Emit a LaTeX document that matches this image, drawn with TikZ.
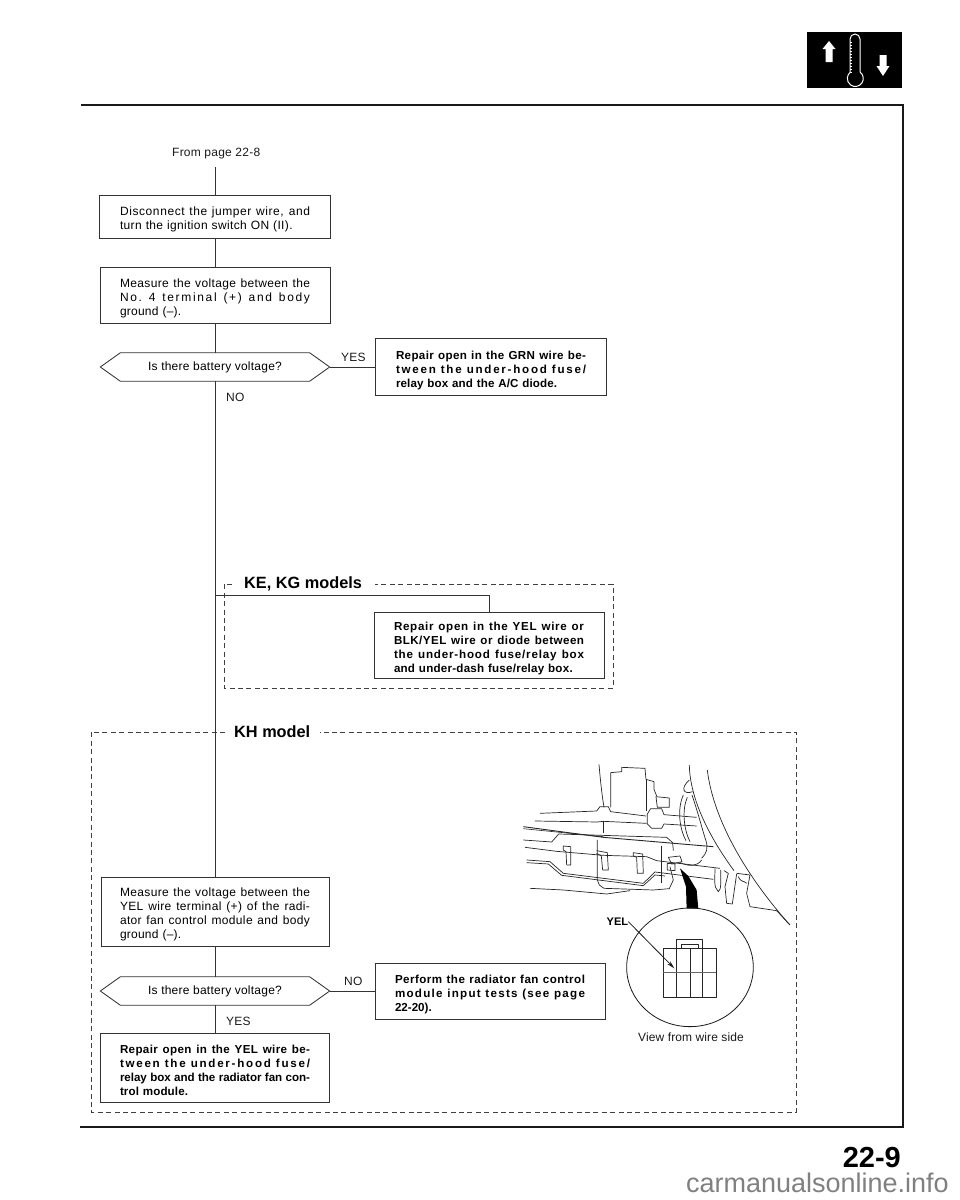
\documentclass[tikz,border=0pt]{standalone}
\usepackage{fontspec}
\setmainfont{Liberation Sans}
\usetikzlibrary{arrows.meta}
\newcommand{\jl}[2]{{\spaceskip=.27em plus 1fil\xspaceskip=.27em plus 1fil\addfontfeature{LetterSpace=#1}\makebox[190pt][s]{#2}}}
\newcommand{\nl}[2]{{\addfontfeature{LetterSpace=#1}#2}}
\tikzset{
  ln/.style={draw=black!80,line width=0.85pt},
  stepbox/.style={draw=black!80,line width=0.85pt,inner xsep=0pt,inner ysep=0pt,text width=190pt,align=left,font=\fontsize{12}{14}\selectfont,execute at begin node={\rule{0pt}{15pt}}},
  boldbox/.style={stepbox,font=\fontsize{11.6}{14}\selectfont\bfseries},
  dec/.style={inner sep=0pt,font=\fontsize{12}{14}\selectfont,minimum width=229pt,minimum height=28pt},
  lbl/.style={inner sep=0pt,font=\fontsize{12}{14}\selectfont,text=black!90},
  dsh/.style={draw=black!75,line width=0.6pt,dash pattern=on 5pt off 3.4pt},
  ttl/.style={inner sep=0pt,font=\fontsize{16.3}{18}\selectfont\bfseries},
  art/.style={draw=black!85,line width=0.7pt,line join=round}
}
\begin{document}
\begin{tikzpicture}[x=1pt,y=-1pt]
\useasboundingbox (0,0) rectangle (960,1200);
% page frame
\coordinate (ftl) at (81,105); \coordinate (ftr) at (903,105);
\coordinate (fbr) at (903,1127); \coordinate (fbl) at (80,1127);
\draw[line width=1.4pt,black!90] (ftl) -- (ftr) -- (fbr) -- (fbl);
% icon
\fill[black] (807,32) rectangle (902,88);
\fill[white] (829,41) -- (835.5,49) -- (832.5,49) -- (832.5,62) -- (825.5,62) -- (825.5,49) -- (822.5,49) -- cycle;
\fill[white] (883,76) -- (889.5,66) -- (886.5,66) -- (886.5,55) -- (879.5,55) -- (879.5,66) -- (876.5,66) -- cycle;
\draw[white,line width=1pt] (850,72) -- (850,39) arc[start angle=180,end angle=0,radius=5pt] -- (860,72) arc[start angle=54,end angle=-234,radius=8pt];
\foreach \yy in {42,45,...,72} \draw[white,line width=0.6pt] (850,\yy) -- (852,\yy);
% dashed frames
\coordinate (a1) at (232,584); \coordinate (a2) at (224,584); \coordinate (a3) at (224,688);
\coordinate (a4) at (613,688); \coordinate (a5) at (613,584); \coordinate (a6) at (375,584);
\draw[dsh] (a1) -- (a2) -- (a3) -- (a4) -- (a5) -- (a6);
\coordinate (c1) at (225,732); \coordinate (c2) at (91,732); \coordinate (c3) at (91,1112);
\coordinate (c4) at (796,1112); \coordinate (c5) at (796,732); \coordinate (c6) at (320,732);
\draw[dsh] (c1) -- (c2) -- (c3) -- (c4) -- (c5) -- (c6);
% text nodes
\node[lbl,anchor=west] (from) at (172,154) {\nl{2}{From page 22-8}};
\coordinate (start) at (215,167);
\node[stepbox,minimum width=231pt,minimum height=43pt] (s1) at (215,216.5)
  {\jl{5}{Disconnect the jumper wire, and}\\\nl{3}{turn the ignition switch ON (II).}};
\node[stepbox,minimum width=230pt,minimum height=56pt] (s2) at (215,295)
  {\jl{3}{Measure the voltage between the}\\\jl{14}{No. 4 terminal (+) and body}\\\nl{2}{ground (--).}};
\node[dec] (d1) at (215,367) {\nl{2}{Is there battery voltage?}};
\node[boldbox,minimum width=231pt,minimum height=57pt] (r1) at (491,367)
  {\jl{3}{Repair open in the GRN wire be-}\\\jl{15}{tween the under-hood fuse/}\\\nl{1}{relay box and the A/C diode.}};
\node[lbl,anchor=west] (y1) at (341,357.5) {\nl{2}{YES}};
\node[lbl,anchor=west] (n1) at (226,397) {\nl{2}{NO}};
\coordinate (ke) at (215,595);
\coordinate (kec) at (489,595);
\node[ttl,anchor=west] (ket) at (244,584) {KE, KG models};
\node[boldbox,minimum width=230pt,minimum height=66pt] (r2) at (489,645)
  {\jl{6}{Repair open in the YEL wire or}\\\jl{4}{BLK/YEL wire or diode between}\\\jl{7}{the under-hood fuse/relay box}\\\nl{2}{and under-dash fuse/relay box.}};
\node[ttl,anchor=west] (kht) at (234,732) {KH model};
\node[stepbox,minimum width=228pt,minimum height=69pt] (s3) at (215,911.5)
  {\jl{3}{Measure the voltage between the}\\\jl{3}{YEL wire terminal (+) of the radi-}\\\jl{3}{ator fan control module and body}\\\nl{2}{ground (--).}};
\node[dec] (d2) at (215,991) {\nl{2}{Is there battery voltage?}};
\node[boldbox,minimum width=230pt,minimum height=56pt] (r3) at (490,991)
  {\jl{4}{Perform the radiator fan control}\\\jl{11}{module input tests (see page}\\22-20).};
\node[lbl,anchor=west] (n2) at (344,981.5) {\nl{2}{NO}};
\node[lbl,anchor=west] (y2) at (226,1021.5) {\nl{2}{YES}};
\node[boldbox,minimum width=229pt,minimum height=69pt] (r4) at (215,1067.5)
  {\jl{3}{Repair open in the YEL wire be-}\\\jl{15}{tween the under-hood fuse/}\\\jl{-0.5}{relay box and the radiator fan con-}\\\nl{1}{trol module.}};
\node[lbl,anchor=west] (view) at (638,1037) {\nl{1}{View from wire side}};
\node[inner sep=0pt,font=\fontsize{29}{30}\selectfont\bfseries,anchor=base east] (pg) at (901,1167) {22-9};
\node[inner sep=0pt,font=\fontsize{27}{30}\selectfont,text=black!50,anchor=base east] (wm) at (949,1192.5) {carmanualsonline.info};
% decision outlines
\draw[ln] (d1.west) -- ([xshift=20pt]d1.north west) -- ([xshift=-20pt]d1.north east) -- (d1.east) -- ([xshift=-20pt]d1.south east) -- ([xshift=20pt]d1.south west) -- cycle;
\draw[ln] (d2.west) -- ([xshift=20pt]d2.north west) -- ([xshift=-20pt]d2.north east) -- (d2.east) -- ([xshift=-20pt]d2.south east) -- ([xshift=20pt]d2.south west) -- cycle;
% connectors
\draw[ln] (start) -- (s1.north);
\draw[ln] (s1.south) -- (s2.north);
\draw[ln] (s2.south) -- (d1.north);
\draw[ln] (d1.east) -- (r1.west);
\draw[ln] (d1.south) -- (s3.north);
\draw[ln] (ke) -- (kec) -- (r2.north);
\draw[ln] (s3.south) -- (d2.north);
\draw[ln] (d2.east) -- (r3.west);
\draw[ln] (d2.south) -- (r4.north);
% illustration, in crop pixels
\begin{scope}[shift={(480,720)},x=0.3333pt,y=-0.3333pt]
  \draw[art] (357,133) .. controls (362,190) and (366,225) .. (372,262);
  \draw[art] (628,135) .. controls (630,230) and (680,340) .. (762,452);
  \draw[art] (682,150) .. controls (700,300) and (800,470) .. (930,615);
  % upper unit
  \draw[art] (392,262) -- (392,158) -- (425,155) -- (425,142) -- (495,145) -- (498,178) -- (522,185) -- (522,208) -- (530,228);
  \draw[art] (498,178) -- (498,272);
  \draw[art] (528,230) -- (568,234) -- (568,262) -- (532,262) -- cycle;
  \draw[art] (502,282) -- (512,266) -- (545,266) -- (552,284) -- (650,292);
  \draw[art] (502,282) -- (502,312) -- (515,325) -- (545,325) -- (552,312) -- (650,318);
  % harness bands
  \draw[art] (180,280) -- (350,273) -- (360,260) -- (385,260) -- (392,275) -- (498,288);
  \draw[art] (165,303) -- (352,306) -- (370,304) -- (500,310);
  \draw[art,line width=0.9pt] (130,320) -- (370,352) -- (700,380);
  \draw[art,line width=0.6pt] (130,326) -- (370,350);
  \draw[art] (130,360) -- (215,366) -- (236,342) -- (560,352) -- (578,368) -- (580,392);
  \draw[art] (370,338) -- (370,304);
  \draw[art] (135,382) -- (230,394) -- (370,406) -- (500,410) -- (530,422) -- (720,445);
  \draw[art] (140,420) -- (210,425) -- (250,460) -- (490,490) -- (525,456) -- (700,478);
  \draw[art] (140,428) -- (205,432) -- (245,466) -- (490,497) -- (525,465) -- (555,468);
  \draw[art] (150,505) -- (250,510) -- (380,522) -- (450,512);
  \draw[art] (352,360) -- (352,480) -- (358,495) -- (372,505) -- (520,510) -- (568,506) -- (580,480) -- (570,440);
  \draw[art] (545,378) -- (545,490);
  % clips
  \draw[art] (250,378) -- (272,380) -- (272,435) -- (260,435) -- (258,395) -- (250,390) -- cycle;
  \draw[art] (350,392) -- (382,398) -- (385,450) -- (368,450) -- (364,408) -- (350,400);
  \draw[art] (460,398) -- (488,402) -- (490,460) -- (472,460) -- (470,412) -- (460,408) -- cycle;
  % loop cable
  \draw[art] (628,180) .. controls (600,205) and (610,225) .. (638,215);
  \draw[art] (610,225) .. controls (590,270) and (600,330) .. (618,362);
  \draw[art] (622,232) .. controls (605,270) and (612,330) .. (630,365);
  \draw[art] (636,225) .. controls (655,280) and (670,340) .. (678,362);
  \draw[art] (678,362) .. controls (685,385) and (680,400) .. (665,415);
  % small connector
  \draw[art] (565,412) -- (600,408) -- (606,425) -- (575,432) -- cycle;
  \draw[art] (562,430) -- (585,432) -- (585,452) -- (562,450) -- cycle;
  \draw[art] (600,428) .. controls (630,440) and (650,440) .. (665,420);
  % right lumps
  \draw[art] (705,445) .. controls (705,480) and (700,500) .. (715,515) .. controls (725,510) and (722,480) .. (722,450);
  \draw[art] (732,452) -- (745,460) -- (735,500) -- (740,550) -- (757,552) -- (770,462);
  \draw[art] (770,460) -- (810,465) -- (800,520) -- (810,560) -- (890,572) -- (930,615);
  \draw[art] (775,470) .. controls (785,490) and (790,480) .. (800,490);
  % wedge
  \fill[black] (600,445) -- (625,468) -- (650,510) -- (655,566) -- (620,566) -- (618,500) -- cycle;
  % detail circle
  \draw[line width=0.8pt,black!90] (630,742) ellipse[x radius=190,y radius=178];
  \draw[art,line width=0.7pt] (550,685) rectangle (708,832);
  \draw[art,line width=0.7pt] (590,685) -- (590,657) -- (667,657) -- (667,685);
  \draw[art] (605,685) -- (605,672) -- (655,672) -- (655,685);
  \draw[art] (590,685) -- (590,832) (630,685) -- (630,832) (668,685) -- (668,832);
  \draw[art,black!60] (550,758) -- (708,758);
  \node[inner sep=0pt,font=\fontsize{11}{12}\selectfont\bfseries,anchor=east] (yl) at (445,605) {YEL};
  \coordinate (yt) at (583,745);
  \draw[line width=0.8pt,black!90,-{Stealth[length=8pt,width=4pt]}] (yl.east) -- (yt);
\end{scope}
\end{tikzpicture}
\end{document}
